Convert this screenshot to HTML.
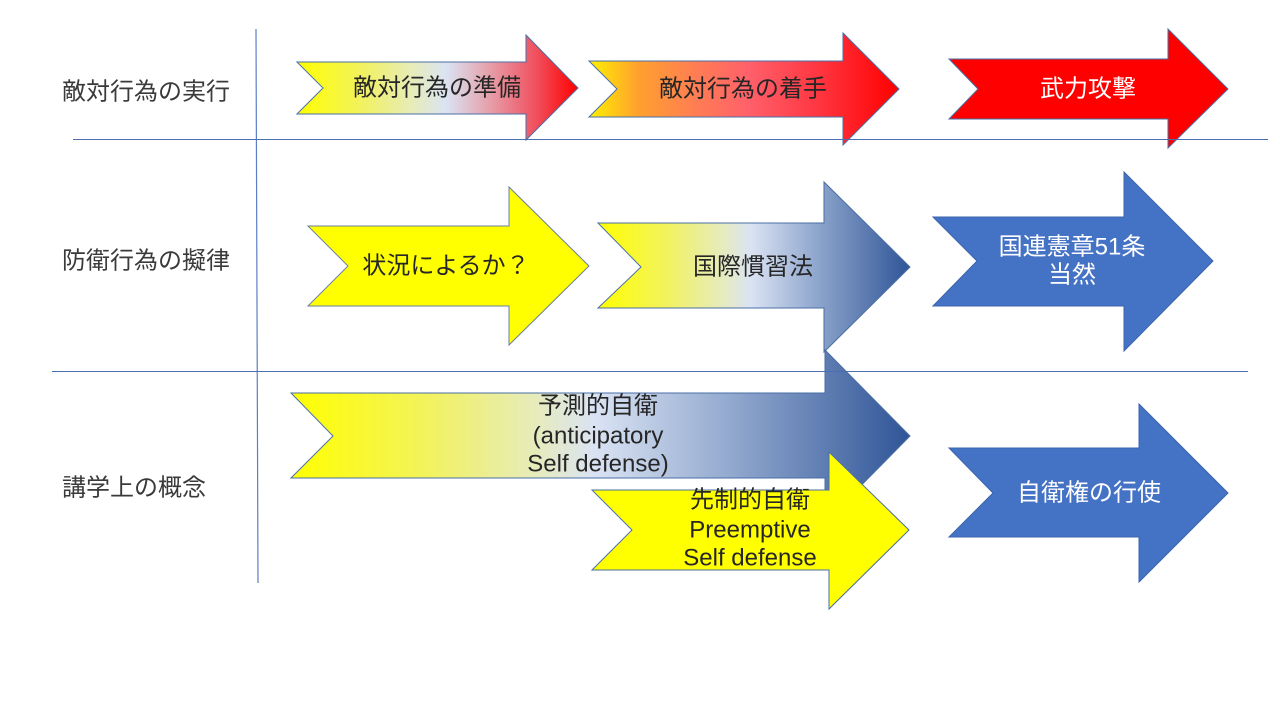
<!DOCTYPE html>
<html lang="ja">
<head>
<meta charset="utf-8">
<style>
  html, body { margin: 0; padding: 0; background: #ffffff; }
  body { width: 1280px; height: 720px; overflow: hidden; }
  svg { display: block; }
  .lbl { font-family: "Liberation Sans", "Noto Sans CJK JP", sans-serif; font-size: 24px; fill: #3a3a3a; }
  .at { font-family: "Liberation Sans", "Noto Sans CJK JP", sans-serif; font-size: 24px; fill: #262626; }
  .wt { font-family: "Liberation Sans", "Noto Sans CJK JP", sans-serif; font-size: 24px; fill: #ffffff; }
</style>
</head>
<body>
<svg width="1280" height="720" viewBox="0 0 1280 720" xmlns="http://www.w3.org/2000/svg">
  <defs>
    <linearGradient id="g1" gradientUnits="userSpaceOnUse" x1="297" y1="0" x2="578" y2="0">
      <stop offset="0" stop-color="#FFFF00"/>
      <stop offset="0.22" stop-color="#F2F25A"/>
      <stop offset="0.42" stop-color="#E6EBBE"/>
      <stop offset="0.53" stop-color="#DAE3F3"/>
      <stop offset="0.68" stop-color="#E5A2AC"/>
      <stop offset="0.85" stop-color="#F0505E"/>
      <stop offset="1" stop-color="#FF0000"/>
    </linearGradient>
    <linearGradient id="g2" gradientUnits="userSpaceOnUse" x1="589" y1="0" x2="899" y2="0">
      <stop offset="0" stop-color="#FFF000"/>
      <stop offset="0.16" stop-color="#FFA02E"/>
      <stop offset="0.35" stop-color="#FF7C55"/>
      <stop offset="0.52" stop-color="#FF5F6A"/>
      <stop offset="0.72" stop-color="#FF3A45"/>
      <stop offset="1" stop-color="#FF0000"/>
    </linearGradient>
    <linearGradient id="g5" gradientUnits="userSpaceOnUse" x1="598" y1="0" x2="910" y2="0">
      <stop offset="0" stop-color="#FFFF00"/>
      <stop offset="0.22" stop-color="#F2F25E"/>
      <stop offset="0.4" stop-color="#E6EBBE"/>
      <stop offset="0.49" stop-color="#DAE3F3"/>
      <stop offset="0.7" stop-color="#8FA6CD"/>
      <stop offset="1" stop-color="#2F5597"/>
    </linearGradient>
    <linearGradient id="g7" gradientUnits="userSpaceOnUse" x1="291" y1="0" x2="910" y2="0">
      <stop offset="0" stop-color="#FFFF00"/>
      <stop offset="0.22" stop-color="#F2F25E"/>
      <stop offset="0.4" stop-color="#E6EBBE"/>
      <stop offset="0.49" stop-color="#DAE3F3"/>
      <stop offset="0.72" stop-color="#8FA6CD"/>
      <stop offset="1" stop-color="#2F5597"/>
    </linearGradient>
  </defs>

  <!-- Row labels -->
  <text class="lbl" x="62" y="92" dominant-baseline="central">敵対行為の実行</text>
  <text class="lbl" x="62" y="261" dominant-baseline="central">防衛行為の擬律</text>
  <text class="lbl" x="62" y="488" dominant-baseline="central">講学上の概念</text>

  <!-- Row 1 -->
  <polygon points="297,62 526,62 526,35 578,88 526,140 526,114 297,114 323,88" fill="url(#g1)" stroke="#4a6fa5" stroke-width="1"/>
  <polygon points="589,61 843,61 843,33 899,89 843,145 843,117 589,117 617,89" fill="url(#g2)" stroke="#4a6fa5" stroke-width="1"/>
  <polygon points="949,59 1168,59 1168,29 1228,89 1168,148 1168,119 949,119 978,89" fill="#FF0000" stroke="#4a6fa5" stroke-width="1"/>
  <text class="at" x="437" y="88" text-anchor="middle" dominant-baseline="central">敵対行為の準備</text>
  <text class="at" x="743" y="89" text-anchor="middle" dominant-baseline="central">敵対行為の着手</text>
  <text class="wt" x="1088" y="89" text-anchor="middle" dominant-baseline="central">武力攻撃</text>

  <!-- Row 2 -->
  <polygon points="308,226 509,226 509,187 589,266 509,345 509,306 308,306 348,266" fill="#FFFF00" stroke="#6a7f9f" stroke-width="1"/>
  <polygon points="598,223 824,223 824,182 910,267 824,352 824,308 598,308 641,267" fill="url(#g5)" stroke="#4a6fa5" stroke-width="1"/>
  <polygon points="933,217 1124,217 1124,172 1213,261 1124,351 1124,306 933,306 977,261" fill="#4472C4" stroke="#3b64ad" stroke-width="1"/>
  <text class="at" x="446" y="266" text-anchor="middle" dominant-baseline="central">状況によるか？</text>
  <text class="at" x="753" y="267" text-anchor="middle" dominant-baseline="central">国際慣習法</text>
  <text class="wt" x="1072" y="247" text-anchor="middle" dominant-baseline="central">国連憲章51条</text>
  <text class="wt" x="1072" y="275" text-anchor="middle" dominant-baseline="central">当然</text>

  <!-- Row 3 -->
  <polygon points="291,393 825,393 825,350 910,436 825,522 825,478 291,478 333,436" fill="url(#g7)" stroke="#4a6fa5" stroke-width="1"/>
  <text class="at" x="598" y="406" text-anchor="middle" dominant-baseline="central">予測的自衛</text>
  <text class="at" x="598" y="436" text-anchor="middle" dominant-baseline="central">(anticipatory</text>
  <text class="at" x="598" y="464" text-anchor="middle" dominant-baseline="central">Self defense)</text>

  <polygon points="592,490 829,490 829,452 909,530 829,609 829,570 592,570 632,530" fill="#FFFF00" stroke="#4a6fa5" stroke-width="1"/>
  <text class="at" x="750" y="500" text-anchor="middle" dominant-baseline="central">先制的自衛</text>
  <text class="at" x="750" y="530" text-anchor="middle" dominant-baseline="central">Preemptive</text>
  <text class="at" x="750" y="558" text-anchor="middle" dominant-baseline="central">Self defense</text>

  <polygon points="949,448 1139,448 1139,404 1228,493 1139,582 1139,537 949,537 993,493" fill="#4472C4" stroke="#3b64ad" stroke-width="1"/>
  <text class="wt" x="1089" y="493" text-anchor="middle" dominant-baseline="central">自衛権の行使</text>

  <!-- Grid lines (on top) -->
  <line x1="256" y1="29" x2="258" y2="583" stroke="#5b7fc4" stroke-width="1.2"/>
  <line x1="73" y1="139.5" x2="1268" y2="139.5" stroke="#4a6fb0" stroke-width="1"/>
  <line x1="52" y1="371.5" x2="1248" y2="371.5" stroke="#4a6fb0" stroke-width="1"/>
</svg>
</body>
</html>
